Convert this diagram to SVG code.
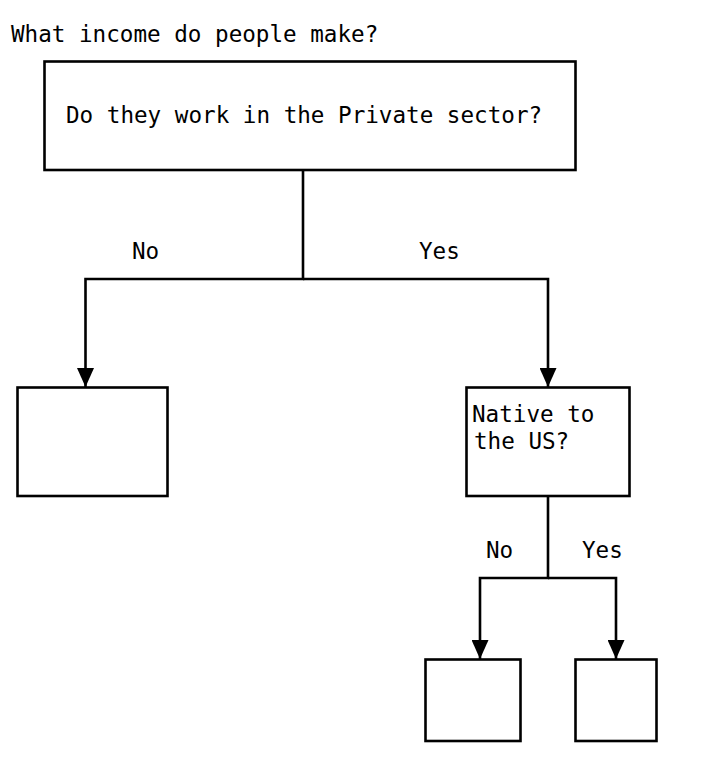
<svg xmlns="http://www.w3.org/2000/svg" width="724" height="760" viewBox="0 0 724 760">
  <style>
    .box { fill: #ffffff; stroke: #000000; stroke-width: 2.6; }
    .wire { fill: none; stroke: #000000; stroke-width: 2.6; }
    text { font-family: "DejaVu Sans Mono", "Liberation Mono", monospace; font-size: 22.6px; fill: #000000; }
  </style>
  <defs>
    <marker id="arrow" markerUnits="userSpaceOnUse" viewBox="0 0 19 17" refX="19" refY="8.5" markerWidth="19" markerHeight="17" orient="auto">
      <path d="M0,0 L19,8.5 L0,17 z" fill="#000000"/>
    </marker>
  </defs>
  <rect width="724" height="760" fill="#ffffff"/>

  <text x="11" y="42">What income do people make?</text>

  <g id="connectors">
    <polyline class="wire" points="303,170 303,279 85.5,279 85.5,387" marker-end="url(#arrow)"/>
    <polyline class="wire" points="303,279 548,279 548,387" marker-end="url(#arrow)"/>
    <polyline class="wire" points="548,496 548,578 480,578 480,659" marker-end="url(#arrow)"/>
    <polyline class="wire" points="548,578 616,578 616,659" marker-end="url(#arrow)"/>
    <text x="132" y="259">No</text>
    <text x="419" y="259">Yes</text>
    <text x="486" y="558">No</text>
    <text x="582" y="558">Yes</text>
  </g>

  <g id="private-sector">
    <rect class="box" x="44.5" y="61.5" width="531" height="108.5"/>
    <text x="66" y="123">Do they work in the Private sector?</text>
  </g>

  <g id="not-private">
    <rect class="box" x="17.5" y="387.5" width="150" height="108.5"/>
  </g>

  <g id="native">
    <rect class="box" x="466.5" y="387.5" width="163" height="108.5"/>
    <text x="472" y="422">Native to</text>
    <text x="474" y="449">the US?</text>
  </g>

  <g id="not-native">
    <rect class="box" x="425.5" y="659.5" width="95" height="81.5"/>
  </g>

  <g id="native-yes">
    <rect class="box" x="575.5" y="659.5" width="81" height="81.5"/>
  </g>
</svg>
